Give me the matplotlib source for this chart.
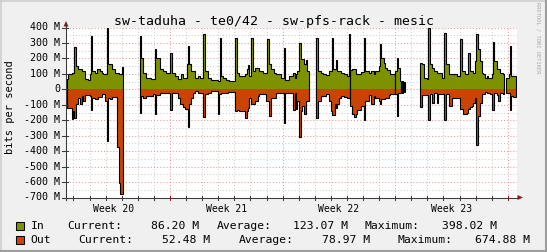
import numpy as np
import matplotlib
matplotlib.use('Agg')
import matplotlib.pyplot as plt
from matplotlib.patches import Polygon, Rectangle
from matplotlib.lines import Line2D

nan = np.nan

# ---------------- data (time in days since start of Week 20, values in Mbit/s) ----
t_days = [
    0.576, 0.680, 0.887, 0.949, 1.053, 1.136, 1.301, 1.405, 1.509, 1.612,
    1.716, 1.923, 2.027, 2.109, 2.172, 2.337, 2.441, 2.545, 2.648, 2.752,
    2.856, 2.959, 3.063, 3.146, 3.270, 3.374, 3.581, 3.684, 3.809, 3.912,
    3.995, 4.099,
    5.115, 5.177, 5.322, 5.529, 5.840, 5.943, 6.068, 6.130, 6.358, 6.565,
    6.772, 7.021, 7.104, 7.290, 7.498, 7.601, 7.663, 7.808, 7.912, 8.036,
    8.099, 8.181, 8.327, 8.430, 8.534, 8.741, 8.845, 9.072, 9.176, 9.362,
    9.569,
    9.984, 10.067, 10.109, 10.170, 10.274, 10.481, 10.585, 10.688, 11.061, 11.144,
    11.310, 11.683, 11.766, 11.828, 11.890, 12.056, 12.139, 12.305, 12.450, 12.553,
    12.761, 12.968, 13.051, 13.134, 13.279, 13.486, 13.589, 13.900, 14.087, 14.170,
    14.418, 14.667, 14.771,
    14.833, 14.916, 15.019, 15.123, 15.227, 15.330, 15.434, 15.537, 15.641,
    16.097, 16.180, 16.366, 16.532, 16.677, 16.884, 16.988, 17.071, 17.154, 17.237,
    17.340, 17.402, 17.506, 17.609, 17.817, 18.024, 18.107, 18.169,
    18.211, 18.335, 18.439, 18.542, 18.646, 18.853, 19.060, 19.143, 19.371, 19.474,
    19.682, 19.765, 19.972, 20.055, 20.138, 20.283, 20.386, 20.490, 20.593, 20.697,
    20.966, 21.008, 21.091, 21.174, 21.298, 21.381, 21.422, 21.505, 21.547, 21.630,
    22.521, 22.666, 22.769, 22.977, 23.059, 23.142, 23.287, 23.391, 23.598, 23.660,
    23.909, 24.033, 24.137, 24.324,
    24.531, 24.821, 25.049, 25.152, 25.235, 25.339, 25.442, 25.546, 25.650, 25.753,
    25.857, 25.961, 26.043, 26.147, 26.271, 26.375, 26.479, 26.582, 26.686, 26.789,
    26.893, 26.997, 27.059, 27.142, 27.307, 27.411, 27.515, 27.722, 27.784,
    27.888, 28.053, 28.115, 28.198, 28.343, 28.509,
]

in_mbps = [
    65, 97, 108, 108, 274, 151, 129, 129, 119, 119,
    65, 58, 97, 345, 119, 108, 129, 129, 119, 108,
    97, 97, 398, 166, 166, 129, 108, 108, 97, 97,
    145, nan,
    345, 200, 108, 75, 65, 65, 259, 205, 129, 119,
    108, 237, 108, 86, 65, 65, 97, 75, 75, 162,
    280, 162, 119, 119, 75, 86, 75, 360, 119, 75,
    58,
    54, 54, 334, 86, 71, 58, 58, 54, 334, 108,
    86, 97, 130, 157, 86, 330, 119, 140, 140, 119,
    108, 108, 324, 162, 129, 108, 97, 75, 270, 58,
    86, 108, 75,
    97, 119, 302, 194, 194, 166, 188, 119, nan,
    334, 119, 108, 97, 93, 119, 119, 334, 129, 129,
    188, 119, 119, 108, 97, 86, 360, nan,
    123, 129, 129, 97, 97, 114, 334, 119, 108, 119,
    97, 119, 151, 291, 205, 173, 140, 123, 123, 97,
    nan, 119, 200, 140, 54, nan, 54, nan, 50, nan,
    172, 162, 71, 65, 396, 162, 140, 119, 108, 108,
    75, 367, 162, 97,
    97, 86, 324, 119, 119, 97, 97, 237, 119, 119,
    108, 183, 360, 259, 183, 108, 97, 75, 86, 75,
    75, 97, 308, 183, 129, 129, 108, 97, nan,
    75, 97, 280, 86, 86, nan,
]

out_mbps = [
    119, 123, 190, 140, 183, 97, 54, 97, 43, 75,
    37, 37, 43, 136, 54, 65, 65, 50, 50, 28,
    28, 75, 334, 54, 65, 50, 50, 373, 604, 675,
    675, nan,
    151, 43, 54, 43, 43, 32, 162, 37, 22, 22,
    22, 136, 22, 22, 54, 97, 97, 114, 130, 130,
    242, 97, 54, 22, 11, 22, 22, 177, 32, 22,
    11,
    162, 28, 28, 22, 22, 22, 15, 15, 140, 136,
    140, 188, 140, 123, 54, 97, 97, 75, 43, 28,
    28, 75, 75, 173, 54, 54, 22, 22, 216, 22,
    22, 136, 22,
    129, 75, 308, 140, 108, 157, 75, 75, nan,
    183, 75, 43, 43, 32, 75, 140, 166, 166, 97,
    123, 93, 54, 43, 50, 58, 58, nan,
    108, 162, 179, 162, 136, 108, 200, 75, 37, 97,
    43, 58, 75, 97, 65, 65, 54, 54, 37, 28,
    nan, 28, 173, 22, 22, nan, 22, nan, 20, nan,
    114, 37, 37, 37, 200, 28, 86, 22, 86, 32,
    32, 200, 28, 108,
    54, 54, 129, 130, 162, 162, 151, 129, 114, 108,
    86, 54, 360, 173, 86, 32, 32, 15, 22, 22,
    32, 136, 136, 22, 37, 75, 22, 32, nan,
    22, 22, 136, 43, 52, nan,
]

week_labels = ['Week 20', 'Week 21', 'Week 22', 'Week 23']
week_centers = [3.5, 10.5, 17.5, 24.5]
week_bounds = [7, 14, 21, 28]
y_major = list(range(-700, 401, 100))
y_minor = list(range(-650, 400, 100))

title = 'sw-taduha - te0/42 - sw-pfs-rack - mesic'
legend_names = ['In', 'Out']
legend_current = [86.20, 52.48]
legend_average = [123.07, 78.97]
legend_maximum = [398.02, 674.88]

# ---------------- styling ----------------
W, H = 547, 252
BACK = '#F0F0F0'
IN_COLOR = '#7E9200'
OUT_COLOR = '#C84400'
MGRID = '#EA9A9A'
GRID = '#CFCFCF'
AXIS = '#3A3A3A'
ARROW = '#9E1515'
MONO = 'DejaVu Sans Mono'

X0, X1 = 66, 517          # plot area in pixels
Y0, Y1 = 27.5, 197.5


def fx(x):
    return x / W


def fy(y):
    return 1 - y / H


fig = plt.figure(figsize=(W / 100, H / 100), dpi=100, facecolor=BACK)
ax = fig.add_axes([fx(X0), fy(Y1), (X1 - X0) / W, (Y1 - Y0) / H])
ax.set_facecolor('white')
ax.set_xlim(0.535, 28.57)
ax.set_ylim(-700, 400)
for s in ax.spines.values():
    s.set_visible(False)
ax.set_xticks([])
ax.set_yticks([])

# grid
dots = (0, (1, 2))
for d in range(1, 29):
    if d in week_bounds:
        continue
    ax.axvline(d, color=GRID, lw=0.75, ls=dots, zorder=1)
for d in week_bounds:
    ax.axvline(d, color=MGRID, lw=0.75, ls=dots, zorder=1.5)
for v in y_minor:
    ax.axhline(v, color=GRID, lw=0.75, ls=dots, zorder=1)
for v in y_major:
    ax.axhline(v, color=MGRID, lw=0.75, ls=dots, zorder=1.5)

# data
t = np.array(t_days, float)


def runs(vals):
    v = np.array(vals, float)
    out = []
    n = len(v)
    i = 0
    while i < n - 1:
        if np.isnan(v[i]):
            i += 1
            continue
        j = i
        while j < n - 1 and not np.isnan(v[j]):
            j += 1
        edges = t[i:j + 1]
        vv = v[i:j]
        X = np.repeat(edges, 2)
        Y = np.concatenate([[0], np.repeat(vv, 2), [0]])
        out.append((X, Y))
        i = j
    return out


for X, Y in runs(in_mbps):
    ax.fill(X, Y, color=IN_COLOR, lw=0, zorder=3)
for X, Y in runs(out_mbps):
    ax.fill(X, -Y, color=OUT_COLOR, lw=0, zorder=3)
for X, Y in runs(in_mbps):
    ax.plot(X, Y, color='black', lw=0.8, zorder=4, solid_joinstyle='miter')
for X, Y in runs(out_mbps):
    ax.plot(X, -Y, color='black', lw=0.8, zorder=4, solid_joinstyle='miter')

# axes lines and arrows (figure pixel coordinates)
fig.add_artist(Line2D([fx(X0), fx(X0)], [fy(Y1 + 2), fy(23)], color=AXIS, lw=0.75))
fig.add_artist(Line2D([fx(X0 - 3), fx(519)], [fy(Y1), fy(Y1)], color=AXIS, lw=0.75))
fig.add_artist(Polygon([[fx(63.5), fy(26.5)], [fx(68.5), fy(26.5)], [fx(66), fy(21)]],
                       closed=True, color=ARROW, lw=0))
fig.add_artist(Polygon([[fx(517.5), fy(Y1 - 2.5)], [fx(517.5), fy(Y1 + 2.5)], [fx(523), fy(Y1)]],
                       closed=True, color=ARROW, lw=0))

# y tick marks and labels
ytr = ax.get_yaxis_transform()
for v in y_major:
    ax.plot([-4 / (X1 - X0), 2 / (X1 - X0)], [v, v], color=AXIS, lw=0.75,
            transform=ytr, clip_on=False, zorder=5)
    lab = '0' if v == 0 else f'{v} M'
    ax.text(-6 / (X1 - X0), v, lab, transform=ytr, ha='right', va='center',
            fontsize=7.2, family=MONO, color='black')

# x tick marks and week labels
xtr = ax.get_xaxis_transform()
for d in range(1, 29):
    c = ARROW if d in week_bounds else AXIS
    ax.plot([d, d], [-2 / (Y1 - Y0), 2 / (Y1 - Y0)], color=c, lw=0.75,
            transform=xtr, clip_on=False, zorder=5)
for c, lab in zip(week_centers, week_labels):
    ax.text(c, -11.2 / (Y1 - Y0), lab, transform=xtr, ha='center', va='center',
            fontsize=7.0, family=MONO, color='black')

# title, y-label, watermark
fig.text(fx(273.5), fy(24.5), title, ha='center', va='baseline',
         fontsize=9.5, family=MONO, color='black')
fig.text(fx(10.5), fy(107.5), 'bits per second', ha='center', va='center',
         rotation=90, fontsize=7.5, family=MONO, color='black')
fig.text(fx(537.5), fy(37.5), 'RRDTOOL / TOBI OETIKER', ha='center', va='center',
         rotation=270, fontsize=3.9, family=MONO, color='#A8A8A8')

# legend
rows_y = [226, 240]
cur_x = [(67.3, 198.9), (78.5, 210.0)]
avg_x = [(216.3, 348.2), (238.3, 369.9)]
max_x = [(364.6, 497.2), (397.8, 530.4)]
colors = [IN_COLOR, OUT_COLOR]
for k in range(2):
    y = rows_y[k]
    fig.add_artist(Rectangle((fx(16), fy(y + 4)), 8 / W, 8 / H, facecolor=colors[k],
                             edgecolor='black', lw=0.75))
    kw = dict(va='center', fontsize=8.2, family=MONO, color='black')
    fig.text(fx(30.7), fy(y), legend_names[k], ha='left', **kw)
    fig.text(fx(cur_x[k][0]), fy(y), 'Current:', ha='left', **kw)
    fig.text(fx(cur_x[k][1]), fy(y), f'{legend_current[k]:.2f} M', ha='right', **kw)
    fig.text(fx(avg_x[k][0]), fy(y), 'Average:', ha='left', **kw)
    fig.text(fx(avg_x[k][1]), fy(y), f'{legend_average[k]:.2f} M', ha='right', **kw)
    fig.text(fx(max_x[k][0]), fy(y), 'Maximum:', ha='left', **kw)
    fig.text(fx(max_x[k][1]), fy(y), f'{legend_maximum[k]:.2f} M', ha='right', **kw)

# image frame (shade)
fig.add_artist(Line2D([0, 1], [fy(0.5), fy(0.5)], color='#CFCFCF', lw=1.2))
fig.add_artist(Line2D([fx(0.5), fx(0.5)], [0, 1], color='#CFCFCF', lw=1.2))
fig.add_artist(Line2D([0, 1], [fy(251), fy(251)], color='#9E9E9E', lw=1.5))
fig.add_artist(Line2D([fx(546), fx(546)], [0, 1], color='#9E9E9E', lw=1.5))

fig.savefig('out.png', dpi=100, facecolor=BACK)
